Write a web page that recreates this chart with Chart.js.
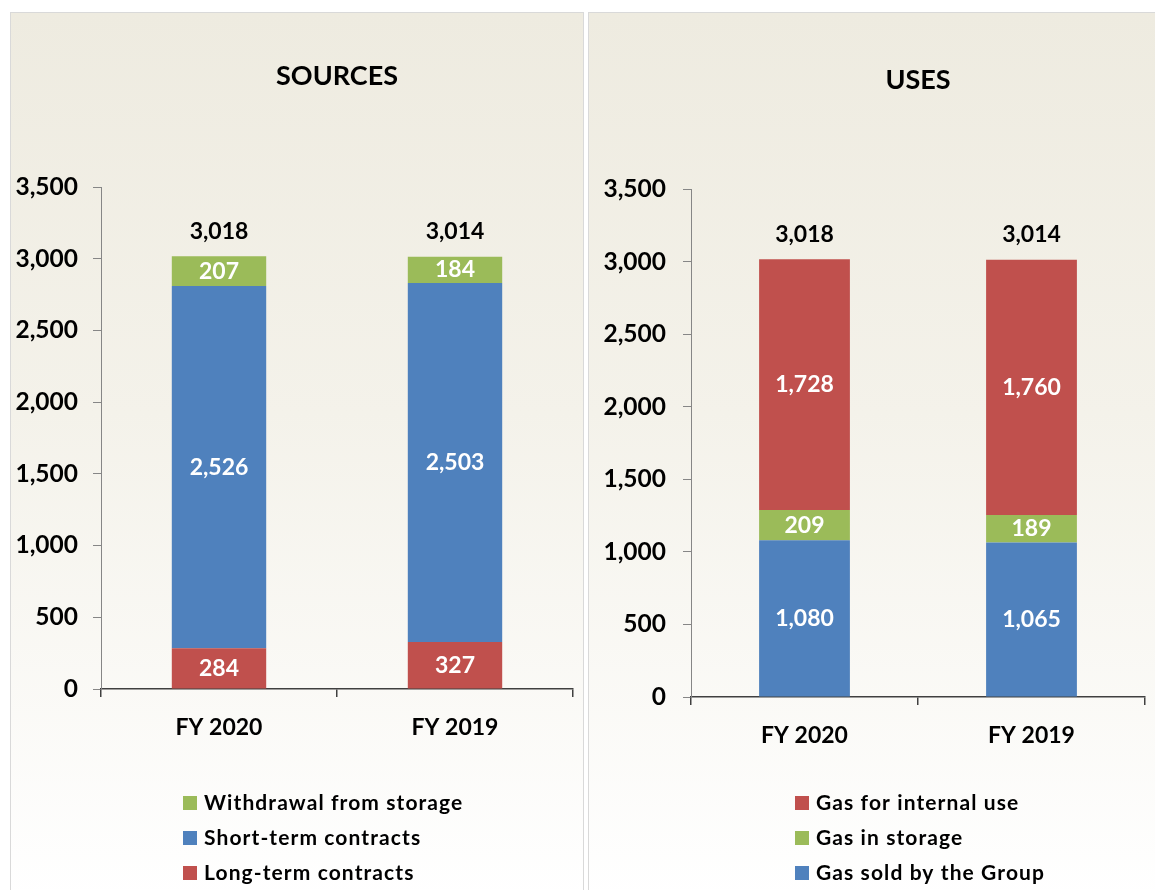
<!DOCTYPE html>
<html>
<head>
<meta charset="utf-8">
<script src="https://cdn.jsdelivr.net/npm/chart.js@4.4.0/dist/chart.umd.min.js"></script>
<style>
  html, body { margin: 0; padding: 0; background: #fff; overflow: hidden; width: 1155px; height: 890px; }
  .panel {
    position: absolute;
    top: 12px;
    height: 890px;
    box-sizing: border-box;
    border: 1px solid #d9d9d9;
    background: linear-gradient(to bottom, #eeebe0 0%, #f4f2ea 45%, #ffffff 100%);
  }
  #leftPanel { left: 10px; width: 574px; }
  #rightPanel { left: 588px; width: 580px; }
  .panel canvas { position: absolute; left: 0; top: 0; }
</style>
</head>
<body>
<div class="panel" id="leftPanel"><canvas id="sourcesChart"></canvas></div>
<div class="panel" id="rightPanel"><canvas id="usesChart"></canvas></div>

<script>
// data
const years = ['FY 2020', 'FY 2019'];

const longTerm = [284, 327];
const shortTerm = [2526, 2503];
const withdrawal = [207, 184];
const sourcesTotals = [3018, 3014];

const gasSold = [1080, 1065];
const gasStorage = [209, 189];
const gasInternal = [1728, 1760];
const usesTotals = [3018, 3014];

const yTicks = [0, 500, 1000, 1500, 2000, 2500, 3000, 3500];

const RED = '#c0504d';
const BLUE = '#4f81bd';
const GREEN = '#9bbb59';
const FONT = 'Lato, "Open Sans", sans-serif';

// labels in the middle of each segment + totals above the stack
const barLabels = {
    id: 'barLabels',
    afterDatasetsDraw(chart, args, opts) {
        const ctx = chart.ctx;
        ctx.save();
        ctx.font = 'bold 23px ' + FONT;
        ctx.textAlign = 'center';
        ctx.textBaseline = 'middle';
        chart.data.datasets.forEach((ds, di) => {
            const meta = chart.getDatasetMeta(di);
            meta.data.forEach((bar, i) => {
                ctx.fillStyle = '#ffffff';
                ctx.fillText(ds.data[i].toLocaleString('en-US'), bar.x, (bar.y + bar.base) / 2);
            });
        });
        const last = chart.getDatasetMeta(chart.data.datasets.length - 1);
        last.data.forEach((bar, i) => {
            ctx.fillStyle = '#000000';
            ctx.fillText(opts.totals[i].toLocaleString('en-US'), bar.x, bar.y - 25);
        });
        ctx.restore();
    }
};

// vertical legend, top dataset first
const columnLegend = {
    id: 'columnLegend',
    afterDraw(chart, args, opts) {
        const ctx = chart.ctx;
        ctx.save();
        ctx.font = 'bold 21px ' + FONT;
        ctx.letterSpacing = '1.1px';
        ctx.textBaseline = 'middle';
        ctx.textAlign = 'left';
        const items = chart.data.datasets.slice().reverse();
        items.forEach((ds, k) => {
            const y = opts.y + k * 35;
            ctx.fillStyle = ds.backgroundColor;
            ctx.fillRect(opts.x, y - 7, 14, 14);
            ctx.fillStyle = '#000000';
            ctx.fillText(ds.label, opts.x + 21, y);
        });
        ctx.restore();
    }
};

function makeChart(id, w, h, title, datasets, totals, lay) {
    const canvas = document.getElementById(id);
    canvas.width = w;
    canvas.height = h;
    canvas.style.width = w + 'px';
    canvas.style.height = h + 'px';
    return new Chart(canvas, {
        type: 'bar',
        data: { labels: years, datasets: datasets },
        plugins: [barLabels, columnLegend],
        options: {
            responsive: false,
            animation: false,
            layout: { padding: { left: 0, right: lay.padRight, top: 0, bottom: lay.padBottom } },
            datasets: { bar: { barPercentage: 0.4, categoryPercentage: 1.0 } },
            scales: {
                x: {
                    stacked: true,
                    afterFit: s => { s.height = 50; },
                    grid: { drawOnChartArea: false, drawTicks: true, tickLength: 8, color: '#404040', lineWidth: 1.5 },
                    border: { color: '#404040', width: 1.5 },
                    ticks: { color: '#000', padding: 17, font: { family: FONT, size: 23, weight: 'bold' } }
                },
                y: {
                    stacked: true,
                    min: 0,
                    max: 3500,
                    afterFit: s => { s.width = lay.yWidth; },
                    afterBuildTicks: s => { s.ticks = yTicks.map(v => ({ value: v })); },
                    grid: { drawOnChartArea: false, drawTicks: true, tickLength: 8, color: '#868686' },
                    border: { color: '#868686', width: 1 },
                    ticks: {
                        color: '#000',
                        padding: lay.yPad,
                        font: { family: FONT, size: 24.5, weight: 'bold' },
                        callback: v => v.toLocaleString('en-US')
                    }
                }
            },
            plugins: {
                legend: { display: false },
                tooltip: { enabled: false },
                title: {
                    display: true,
                    fullSize: false,
                    text: title,
                    color: '#000',
                    font: { family: FONT, size: 27, weight: 'bold' },
                    padding: { top: lay.titleTop, bottom: lay.titleBottom }
                },
                barLabels: { totals: totals },
                columnLegend: { x: lay.legendX, y: lay.legendY }
            }
        }
    });
}

makeChart('sourcesChart', 572, 876, 'SOURCES', [
    { label: 'Long-term contracts', data: longTerm, backgroundColor: RED },
    { label: 'Short-term contracts', data: shortTerm, backgroundColor: BLUE },
    { label: 'Withdrawal from storage', data: withdrawal, backgroundColor: GREEN }
], sourcesTotals, {
    padRight: 10, padBottom: 150, yWidth: 90, yPad: 15,
    titleTop: 47, titleBottom: 94.6, legendX: 172, legendY: 790
});

makeChart('usesChart', 578, 876, 'USES', [
    { label: 'Gas sold by the Group', data: gasSold, backgroundColor: BLUE },
    { label: 'Gas in storage', data: gasStorage, backgroundColor: GREEN },
    { label: 'Gas for internal use', data: gasInternal, backgroundColor: RED }
], usesTotals, {
    padRight: 22, padBottom: 142, yWidth: 102, yPad: 17,
    titleTop: 51, titleBottom: 92.8, legendX: 206, legendY: 790
});
</script>
</body>
</html>
